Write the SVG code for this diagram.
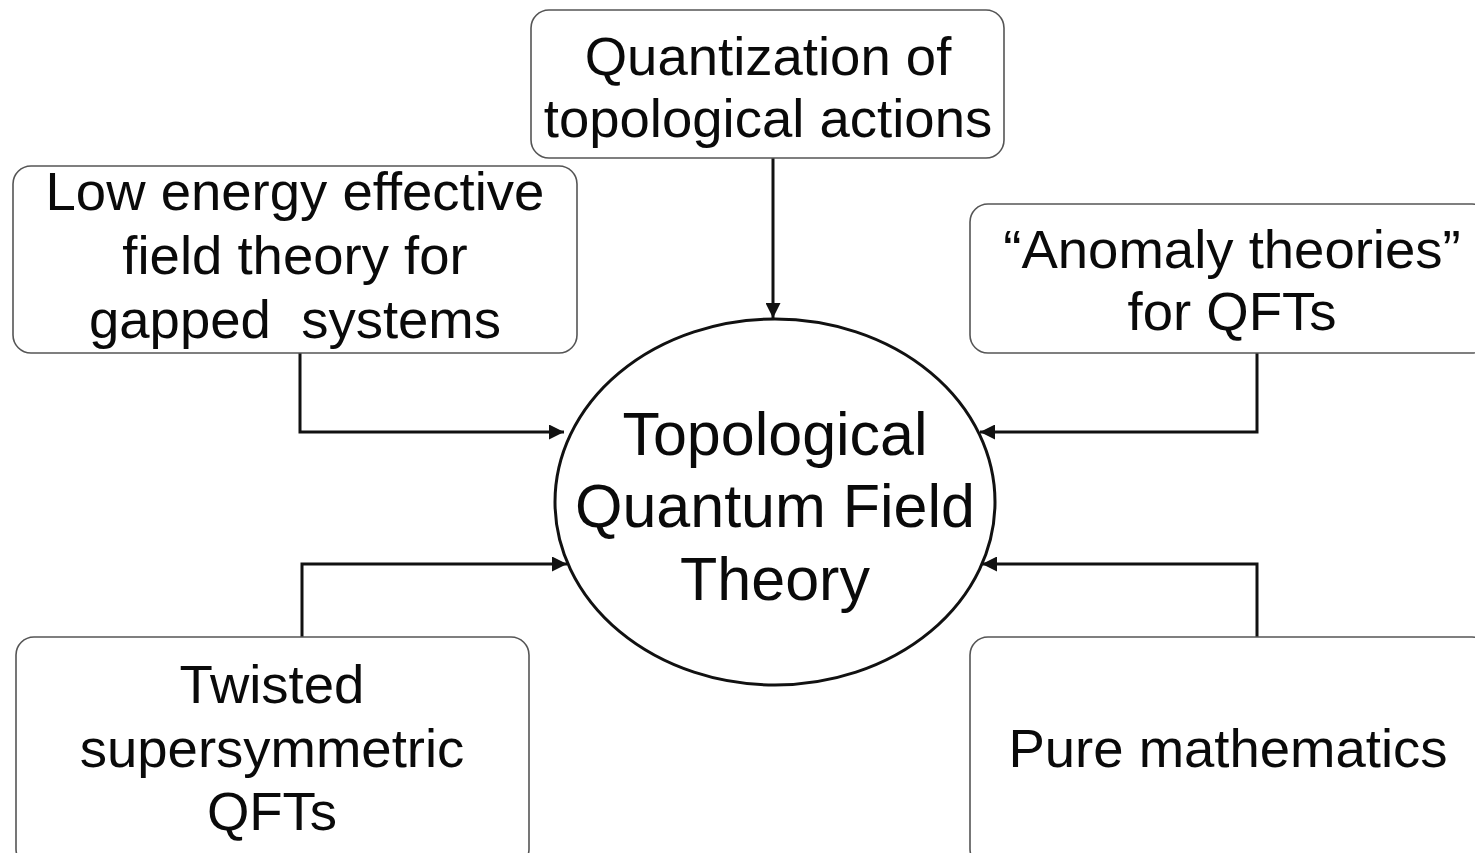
<svg xmlns="http://www.w3.org/2000/svg" width="1475" height="853" viewBox="0 0 1475 853">
<style>
.box{fill:#fff;stroke:#555;stroke-width:1.6}
.t{font-family:"Liberation Sans",Arial,sans-serif;font-size:54.5px;fill:#0a0a0a;text-anchor:middle}
.c{font-family:"Liberation Sans",Arial,sans-serif;font-size:61px;fill:#0a0a0a;text-anchor:middle}
.ln{fill:none;stroke:#111;stroke-width:3}
</style>
<defs>
<marker id="ah" viewBox="0 0 10 10" refX="10" refY="5" markerWidth="5" markerHeight="5" orient="auto" markerUnits="strokeWidth">
<path d="M0,0 L10,5 L0,10 z" fill="#111"/>
</marker>
</defs>
<rect width="1475" height="853" fill="#fff"/>
<g id="connectors">
<path class="ln" d="M773,158 V318" marker-end="url(#ah)"/>
<path class="ln" d="M300,353 V432 H564" marker-end="url(#ah)"/>
<path class="ln" d="M1257,353 V432 H980" marker-end="url(#ah)"/>
<path class="ln" d="M302,637 V564 H567" marker-end="url(#ah)"/>
<path class="ln" d="M1257,637 V564 H982" marker-end="url(#ah)"/>
</g>
<g id="center">
<ellipse cx="775" cy="502" rx="220" ry="183" fill="#fff" stroke="#111" stroke-width="3"/>
<text class="c" x="775" y="455">Topological</text>
<text class="c" x="775" y="527">Quantum Field</text>
<text class="c" x="775" y="600">Theory</text>
</g>
<g id="quantization">
<rect class="box" x="531" y="10" width="473" height="148" rx="18"/>
<text class="t" x="768" y="75">Quantization of</text>
<text class="t" x="768" y="137">topological actions</text>
</g>
<g id="lowenergy">
<rect class="box" x="13" y="166" width="564" height="187" rx="18"/>
<text class="t" x="295" y="210">Low energy effective</text>
<text class="t" x="295" y="274">field theory for</text>
<text class="t" x="295" y="338" xml:space="preserve">gapped  systems</text>
</g>
<g id="anomaly">
<rect class="box" x="970" y="204" width="520" height="149" rx="18"/>
<text class="t" x="1232" y="268">“Anomaly theories”</text>
<text class="t" x="1232" y="330">for QFTs</text>
</g>
<g id="twisted">
<rect class="box" x="16" y="637" width="513" height="230" rx="18"/>
<text class="t" x="272" y="703">Twisted</text>
<text class="t" x="272" y="767">supersymmetric</text>
<text class="t" x="272" y="830">QFTs</text>
</g>
<g id="puremath">
<rect class="box" x="970" y="637" width="520" height="230" rx="18"/>
<text class="t" x="1228" y="767">Pure mathematics</text>
</g>
</svg>
